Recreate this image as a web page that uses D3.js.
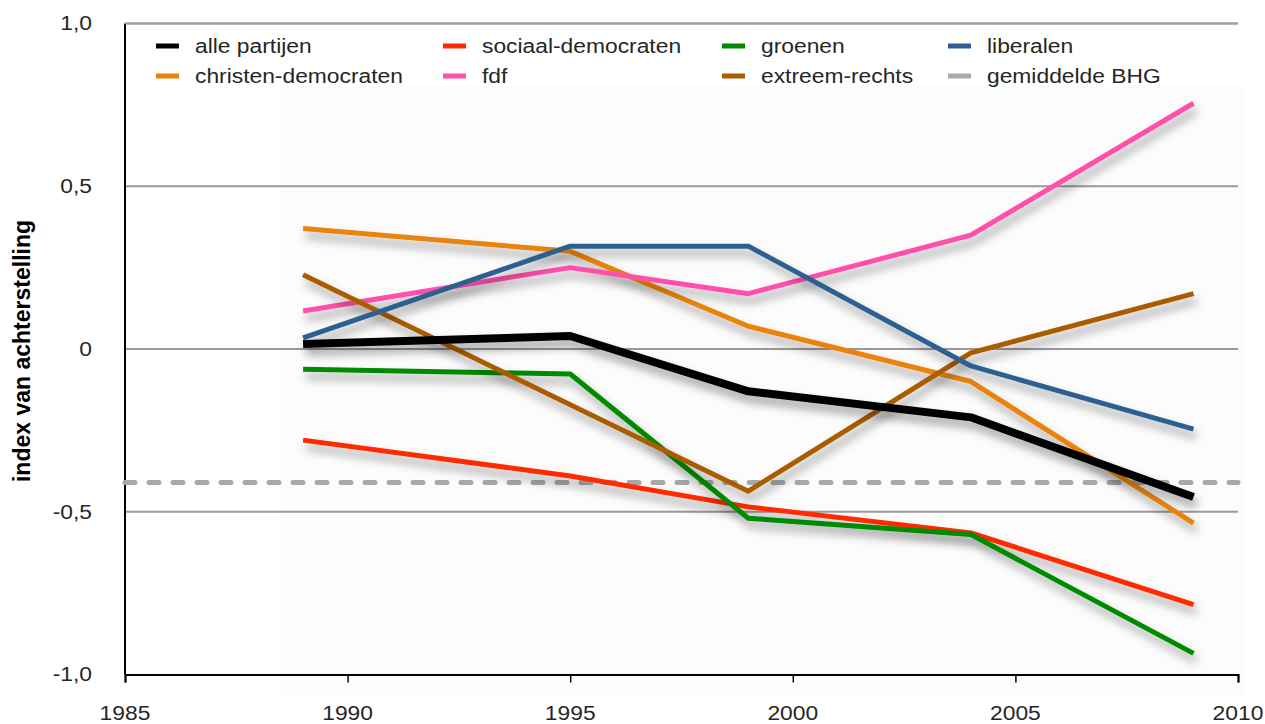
<!DOCTYPE html>
<html>
<head>
<meta charset="UTF-8"/>
<script src="https://d3js.org/d3.v7.min.js"></script>
<style>
body { margin:0; background:#fff; }
text { font-family: "Liberation Sans", Arial, sans-serif; }
</style>
</head>
<body>
<svg id='big' width=1265 height=724></svg>
<script>
'use strict';

// data (years of the elections)
var years = [1989, 1995, 1999, 2004, 2009];
var allePartijen      = [0.015, 0.04, -0.13, -0.21, -0.455];
var christenDemocr    = [0.37, 0.30, 0.07, -0.10, -0.535];
var sociaalDemocr     = [-0.28, -0.39, -0.485, -0.565, -0.785];
var fdf               = [0.117, 0.25, 0.17, 0.35, 0.755];
var groenen           = [-0.062, -0.077, -0.52, -0.57, -0.935];
var extreemRechts     = [0.228, null, -0.437, -0.012, 0.17];
var liberalen         = [0.034, 0.316, 0.316, -0.052, -0.246];
var gemiddeldeBHG     = -0.41;

var xTicks = [1985, 1990, 1995, 2000, 2005, 2010];
var yTicks = [1, 0.5, 0, -0.5, -1];
var yTickLabels = ['1,0', '0,5', '0', '-0,5', '-1,0'];

var series = [
	{name:'christen-democraten', values:christenDemocr, color:'#e8830a', w:5},
	{name:'sociaal-democraten', values:sociaalDemocr, color:'#ff2b00', w:5},
	{name:'groenen', values:groenen, color:'#008a00', w:5},
	{name:'fdf', values:fdf, color:'#ff4fab', w:5},
	{name:'extreem-rechts', values:extreemRechts, color:'#a95c00', w:5},
	{name:'liberalen', values:liberalen, color:'#2e5f91', w:5},
	{name:'alle partijen', values:allePartijen, color:'#000000', w:8}
];

var legendRows = [
	[['alle partijen','#000'],['sociaal-democraten','#ff2b00'],['groenen','#008a00'],['liberalen','#2e5f91']],
	[['christen-democraten','#e8830a'],['fdf','#ff4fab'],['extreem-rechts','#a95c00'],['gemiddelde BHG','#aaaaaa']]
];

var STRETCH = 1.17; // text in the original is drawn a bit wider

var svg = d3.select('#big');
var sx = d3.scaleLinear().domain([1985, 2010]).range([125, 1238]);
var sy = d3.scaleLinear().domain([-1, 1]).range([674.5, 23.5]);

var defs = svg.append('defs');
var f = defs.append('filter').attr('id','shadow')
	.attr('x','-10%').attr('y','-20%').attr('width','130%').attr('height','160%');
f.append('feDropShadow').attr('dx',3).attr('dy',7).attr('stdDeviation',5)
	.attr('flood-color','#000').attr('flood-opacity',0.38);

function wideText(x, y, str, anchor){
	return svg.append('text')
		.attr('transform', 'translate(' + x + ',' + y + ') scale(' + STRETCH + ',1)')
		.attr('dy', '0.35em')
		.attr('text-anchor', anchor)
		.attr('font-size', 19.5).attr('fill', '#262626')
		.text(str);
}

// faint backdrop
svg.append('rect').attr('x',280).attr('y',86).attr('width',965).attr('height',611)
	.attr('fill','#fcfcfc');

// gridlines
svg.selectAll('.grid')
	.data(yTicks.filter(function(d){return d > -1;}))
	.enter().append('line')
	.attr('class','grid')
	.attr('x1', sx(1985)).attr('x2', sx(2010))
	.attr('y1', function(d){return sy(d);}).attr('y2', function(d){return sy(d);})
	.attr('stroke', '#9a9a9a').attr('stroke-width', 2);

// y labels
yTicks.forEach(function(d, i){
	wideText(92, sy(d), yTickLabels[i], 'end');
});

// x axis
var xAxis = d3.axisBottom(sx).tickValues(xTicks).tickSize(8).tickFormat('');
var gx = svg.append('g').attr('transform','translate(0,' + sy(-1) + ')').call(xAxis);
gx.select('.domain').attr('stroke','#000').attr('stroke-width',2);
gx.selectAll('.tick line').attr('stroke','#000').attr('stroke-width',1.5);
xTicks.forEach(function(d){
	wideText(sx(d), 713, String(d), 'middle');
});

// left axis line
svg.append('line').attr('x1', sx(1985)).attr('x2', sx(1985))
	.attr('y1', sy(1)).attr('y2', sy(-1))
	.attr('stroke','#000').attr('stroke-width',2);

// y title
svg.append('text')
	.attr('transform','translate(30,' + 351 + ') rotate(-90)')
	.attr('text-anchor','middle')
	.attr('font-size',23).attr('font-weight','bold')
	.text('index van achterstelling');

// average line
svg.append('line')
	.attr('x1', sx(1985)).attr('x2', sx(2010))
	.attr('y1', sy(gemiddeldeBHG)).attr('y2', sy(gemiddeldeBHG))
	.attr('stroke','#a8a8a8').attr('stroke-width',5)
	.attr('stroke-dasharray','10,14').attr('stroke-linecap','round');

// lines
var line = d3.line()
	.defined(function(d){return d[1] !== null;})
	.x(function(d){return sx(d[0]);})
	.y(function(d){return sy(d[1]);});

svg.selectAll('.serie')
	.data(series)
	.enter().append('path')
	.attr('class','serie')
	.attr('d', function(s){
		var pts = years.map(function(y,i){return [y, s.values[i]];})
			.filter(function(p){return p[1] !== null;});
		return line(pts);
	})
	.attr('fill','none')
	.attr('stroke', function(s){return s.color;})
	.attr('stroke-width', function(s){return s.w;})
	.attr('stroke-linejoin','round')
	.attr('filter','url(#shadow)');

// legend
var colX = [156, 443, 722, 948];
var rowY = [46, 76];
legendRows.forEach(function(row, r){
	row.forEach(function(item, c){
		svg.append('line')
			.attr('x1', colX[c]).attr('x2', colX[c] + 23)
			.attr('y1', rowY[r]).attr('y2', rowY[r])
			.attr('stroke', item[1]).attr('stroke-width', 5);
		wideText(colX[c] + 39, rowY[r], item[0], 'start');
	});
});

// top frame line
svg.append('line').attr('x1', sx(1985)).attr('x2', sx(2010))
	.attr('y1', sy(1)).attr('y2', sy(1))
	.attr('stroke','#a0a0a0').attr('stroke-width',2);
</script>
</body>
</html>
